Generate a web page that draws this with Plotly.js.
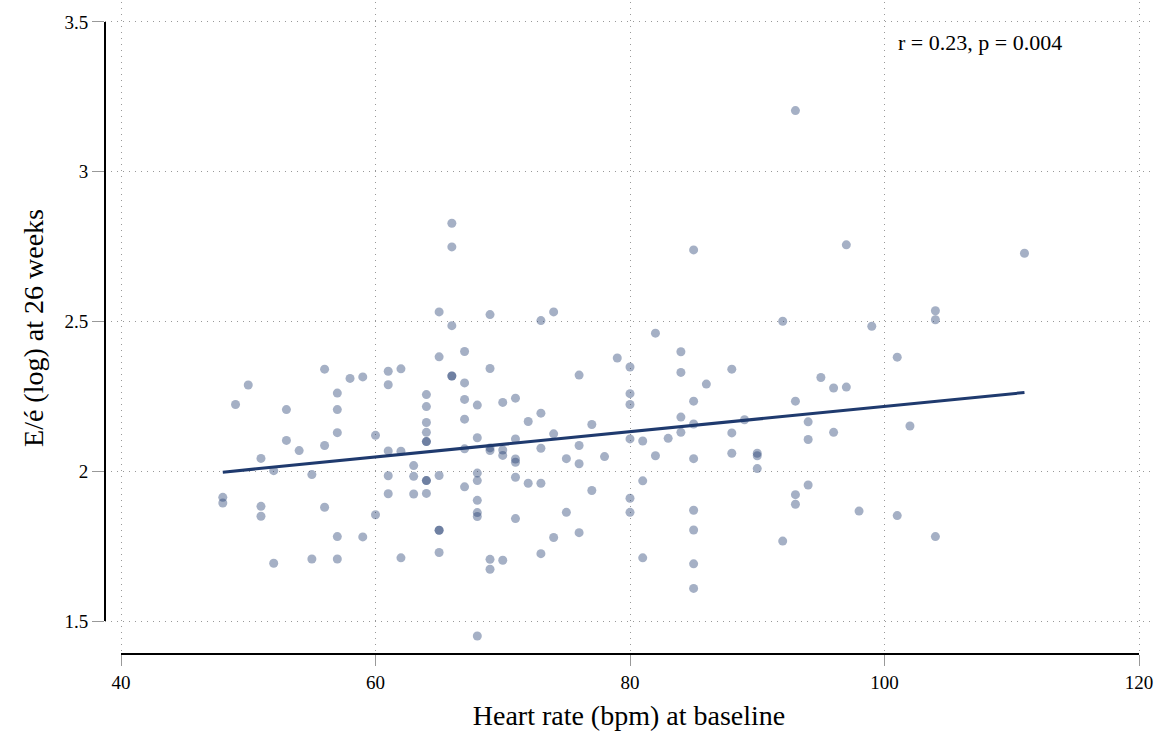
<!DOCTYPE html>
<html>
<head>
<meta charset="utf-8">
<script src="https://cdn.plot.ly/plotly-3.0.1.min.js"></script>
<style>html,body{margin:0;padding:0;background:#fff;}#chart{width:1165px;height:736px;}</style>
</head>
<body>
<div id="chart"></div>
<script>
// Heart rate (bpm) at baseline
const heartRate = [
  48,48,49,50,51,51,51,52,52,53,53,54,55,55,56,56,56,
  57,57,57,57,57,58,59,59,60,60,61,61,61,61,61,62,62,62,
  63,63,63,64,64,64,64,64,64,64,64,64,65,65,65,65,65,65,
  66,66,66,66,66,67,67,67,67,67,67,68,68,68,68,68,68,68,68,
  69,69,69,69,69,69,70,70,70,70,71,71,71,71,71,71,72,72,
  73,73,73,73,73,74,74,74,75,75,76,76,76,76,77,77,78,79,
  80,80,80,80,80,80,81,81,81,82,82,83,84,84,84,84,
  85,85,85,85,85,85,85,85,86,88,88,88,89,90,90,90,92,92,
  93,93,93,93,94,94,94,95,96,96,97,97,98,99,101,101,102,104,104,104,111
];
// E/é (log) at 26 weeks
const eeLog = [
  1.913,1.894,2.223,2.288,2.043,1.883,1.850,2.002,1.693,2.206,2.103,2.069,1.989,1.707,2.341,2.086,1.880,
  2.261,2.206,2.129,1.782,1.707,2.310,2.315,1.781,2.120,1.855,2.334,2.289,2.068,1.985,1.925,2.342,2.067,1.711,
  2.019,1.983,1.924,2.256,2.216,2.163,2.130,2.099,2.099,1.969,1.969,1.926,2.532,2.382,1.986,1.803,1.803,1.729,
  2.828,2.749,2.486,2.318,2.318,2.400,2.295,2.240,2.174,2.075,1.948,2.221,2.112,1.994,1.969,1.903,1.862,1.849,1.450,
  2.523,2.343,2.078,2.069,1.706,1.673,2.230,2.071,2.053,1.703,2.244,2.108,2.041,2.030,1.980,1.842,2.166,1.960,
  2.503,2.194,2.077,1.960,1.725,2.532,2.125,1.779,2.042,1.863,2.321,2.086,2.025,1.795,2.156,1.936,2.049,2.378,
  2.348,2.259,2.223,2.108,1.910,1.863,2.101,1.968,1.711,2.461,2.052,2.110,2.399,2.330,2.181,2.130,
  2.739,2.234,2.158,2.042,1.870,1.804,1.691,1.609,2.291,2.341,2.128,2.060,2.172,2.060,2.052,2.009,2.501,1.767,
  3.204,2.234,1.922,1.890,2.165,2.106,1.954,2.313,2.278,2.130,2.756,2.281,1.867,2.484,2.381,1.852,2.151,2.536,2.506,1.782,2.728
];
// Fitted regression line
const fitX = [48, 111];
const fitY = [1.997, 2.263];

const xTicks = [40, 60, 80, 100, 120];
const yTicks = [1.5, 2, 2.5, 3, 3.5];
const yTickText = ['1.5', '2', '2.5', '3', '3.5'];
const statText = 'r = 0.23, p = 0.004';

const navy = '#1f3a6e';
const serif = 'Liberation Serif, Times New Roman, serif';

const traces = [
  {
    type: 'scatter', mode: 'markers', x: heartRate, y: eeLog,
    marker: {size: 9, color: 'rgba(31,58,110,0.4)', line: {width: 0}},
    hoverinfo: 'x+y', showlegend: false
  },
  {
    type: 'scatter', mode: 'lines', x: fitX, y: fitY,
    line: {color: navy, width: 3}, showlegend: false
  }
];

const layout = {
  width: 1165, height: 736,
  margin: {l: 105, r: 12, t: 2, b: 82},
  paper_bgcolor: '#fff', plot_bgcolor: '#fff',
  font: {family: serif, color: '#000', size: 19},
  showlegend: false,
  xaxis: {
    range: [38.743, 121.1],
    tickvals: xTicks, ticktext: xTicks.map(String),
    ticks: 'outside', ticklen: 11, tickcolor: '#999', tickwidth: 1,
    showgrid: true, gridcolor: '#999', griddash: '1px,5px', gridwidth: 1,
    zeroline: false, showline: false,
    tickfont: {family: serif, size: 19},
    title: {text: 'Heart rate (bpm) at baseline', font: {family: serif, size: 28}, standoff: 13}
  },
  yaxis: {
    range: [1.390, 3.5666],
    tickvals: yTicks, ticktext: yTickText,
    ticks: 'outside', ticklen: 12, tickcolor: '#999', tickwidth: 1,
    showgrid: true, gridcolor: '#999', griddash: '1px,5px', gridwidth: 1,
    zeroline: false, showline: false,
    tickfont: {family: serif, size: 19},
    title: {text: 'E/é (log) at 26 weeks', font: {family: serif, size: 28}, standoff: 12}
  },
  shapes: [
    {type: 'line', xref: 'paper', yref: 'y', x0: 0, x1: 0, y0: 1.5, y1: 3.5,
     line: {color: '#000', width: 2}},
    {type: 'line', xref: 'x', yref: 'paper', x0: 40, x1: 120, y0: 0, y1: 0,
     line: {color: '#000', width: 2}}
  ],
  annotations: [
    {x: 100.9, y: 3.433, xref: 'x', yref: 'y', xanchor: 'left', yanchor: 'middle',
     text: statText, showarrow: false, font: {family: serif, size: 22, color: '#000'}}
  ]
};

Plotly.newPlot('chart', traces, layout, {displayModeBar: false, staticPlot: true});
</script>
</body>
</html>
